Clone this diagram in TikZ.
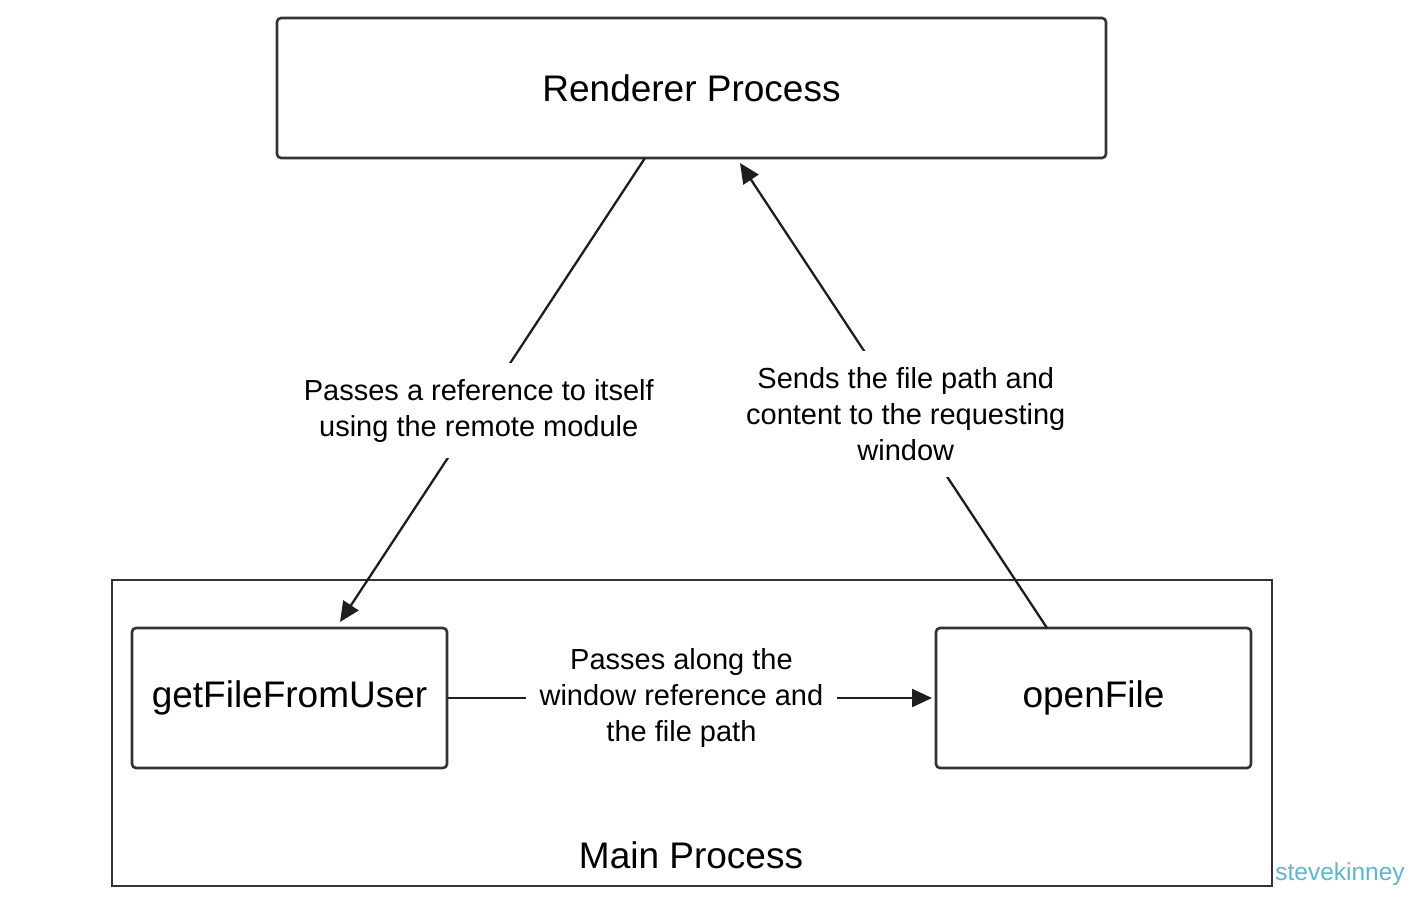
\documentclass[tikz,border=0pt]{standalone}
\usepackage{fontspec}
\setmainfont{Liberation Sans}
\usetikzlibrary{arrows.meta}
\definecolor{boxc}{HTML}{333333}
\definecolor{linec}{HTML}{1E1E1E}
\definecolor{wmark}{HTML}{5DB8CB}
\begin{document}
\begin{tikzpicture}[x=1pt,y=-1pt,
  box/.style={draw=boxc, line width=2.6pt, rounded corners=4pt, inner sep=0pt,
    font=\fontsize{37}{44}\selectfont},
  outer/.style={draw=boxc, line width=2.6pt, inner sep=0pt},
  conn/.style={draw=linec, line width=2.3pt, -{Triangle[length=20pt,width=18pt]}},
  lab/.style={fill=white, align=center, inner xsep=14pt, inner ysep=16pt,
    font=\fontsize{29}{36}\selectfont},
  big/.style={font=\fontsize{37}{44}\selectfont, inner sep=0pt}]
\useasboundingbox[fill=white] (0,0) rectangle (1414,902);

\node[box, minimum width=829pt, minimum height=140pt] (rend) at (691.5,88) {Renderer Process};
\node[outer, minimum width=1160pt, minimum height=306pt] (main) at (692,733) {};
\node[big] (mainlab) at (691,855) {Main Process};
\node[box, minimum width=315pt, minimum height=140pt] (gf) at (289.5,698) {getFileFromUser};
\node[box, minimum width=315pt, minimum height=140pt] (of) at (1093.5,698) {openFile};

\coordinate (a1) at (645,158);
\coordinate (b1) at (340,622);
\coordinate (a2) at (1047,628);
\coordinate (b2) at (740,163);
\coordinate (b3) at (932,698);

\draw[conn] (a1) -- node[lab, pos=0.545] (l1) {Passes a reference to itself\\using the remote module} (b1);
\draw[conn] (a2) -- node[lab, pos=0.46] (l2) {Sends the file path and\\content to the requesting\\window} (b2);
\draw[conn] (gf.east) -- node[lab, pos=0.482] (l3) {Passes along the\\window reference and\\the file path} (b3);

\node[text=wmark, font=\fontsize{24.5}{28}\selectfont, inner sep=0pt] (wm) at (1340,874) {stevekinney};
\end{tikzpicture}
\end{document}
